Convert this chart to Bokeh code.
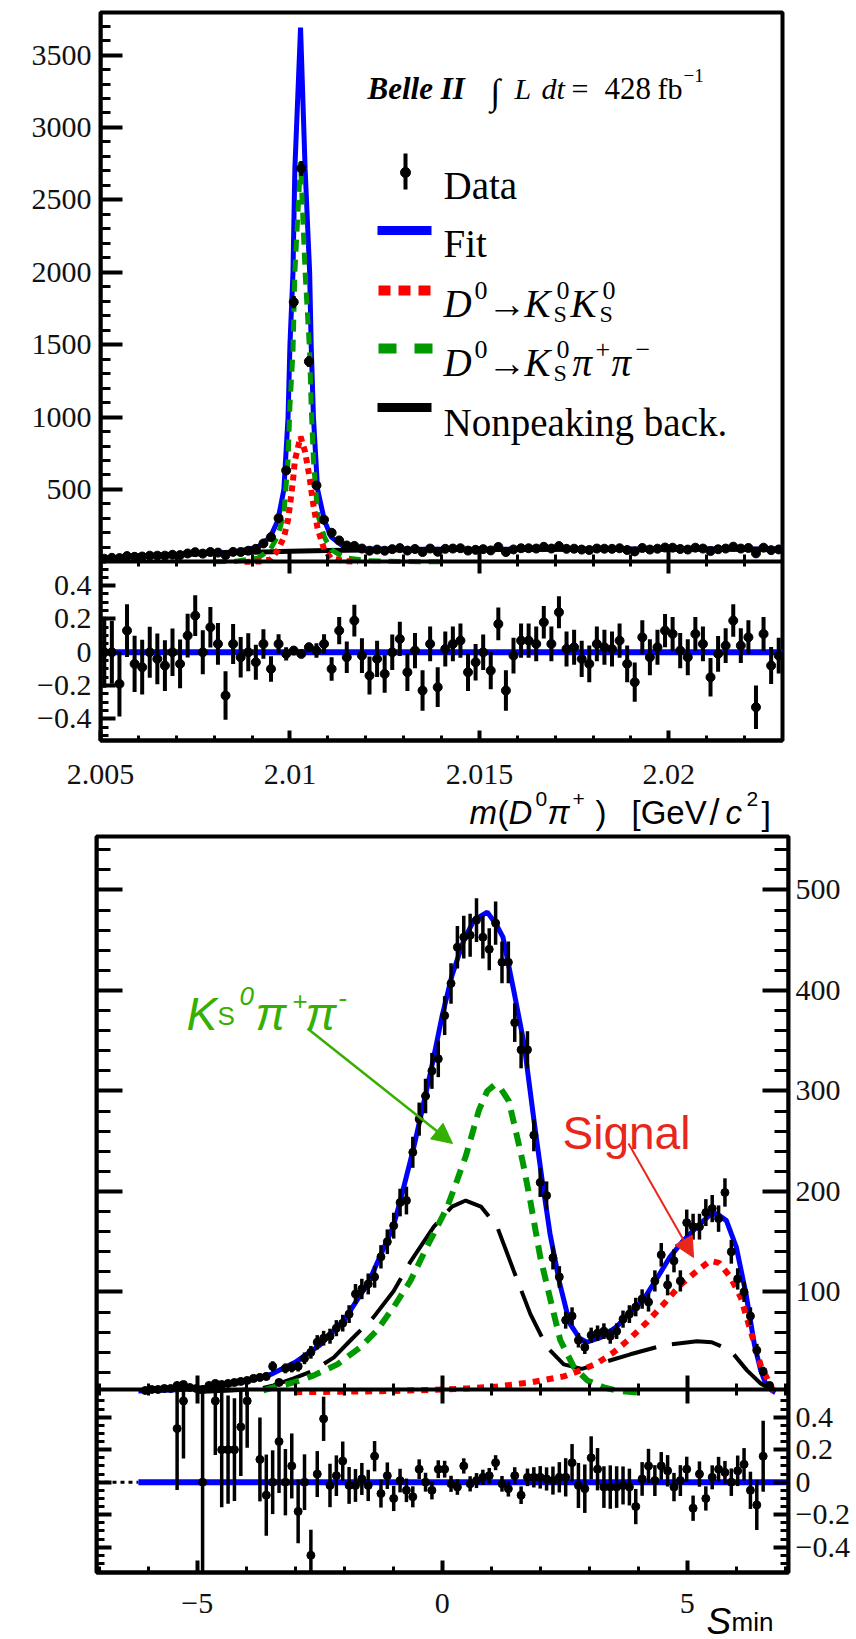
import numpy as np
from bokeh.plotting import figure
from bokeh.models import (Range1d, LinearAxis, FixedTicker, CustomJSTickFormatter,
                          Label, Arrow, NormalHead)
from bokeh.layouts import column
from bokeh.embed import file_html
from bokeh.resources import INLINE

# ======================= TOP CHART DATA: m(D0 pi+) =======================
TOP_BIN_CENTERS = np.round(2.0051 + 0.0002 * np.arange(90), 4)
TOP_COUNTS = np.array([
    22, 28, 26, 40, 35, 37, 43, 43, 43, 49,
    47, 58, 67, 57, 68, 64, 47, 69, 68, 77,
    90, 127, 171, 302, 631, 1794, 2717, 1384, 528, 291,
    201, 148, 113, 110,
    92, 77, 85, 77, 88, 95, 78, 89, 68, 92,
    70, 90, 92, 94, 78, 83, 88, 79, 103, 68,
    86, 94, 94, 92, 104, 92, 109, 90, 91, 85,
    82, 92, 91, 90, 94, 82, 72, 96, 85, 91,
    99, 98, 89, 85, 98, 92, 75, 87, 92, 105,
    92, 96, 59, 98, 81, 86], dtype=float)
TOP_RESID = np.array([
    0.0, 0.0, -0.19, 0.13, -0.07, -0.09, 0.0, -0.04, -0.08, 0.0,
    -0.07, 0.10, 0.22, 0.0, 0.15, 0.05, -0.26, 0.05, -0.03, 0.0,
    -0.06, 0.05, -0.10, 0.05, -0.01, 0.01, -0.01, 0.03, 0.01, 0.05,
    -0.10, 0.13, -0.03, 0.19,
    -0.02, -0.14, -0.04, -0.13, 0.0, 0.08, -0.12, 0.01, -0.23, 0.05,
    -0.21, 0.02, 0.05, 0.07, -0.12, -0.06, 0.0, -0.11, 0.17, -0.23,
    -0.02, 0.07, 0.07, 0.05, 0.18, 0.05, 0.24, 0.02, 0.03, -0.04,
    -0.07, 0.05, 0.03, 0.02, 0.07, -0.07, -0.18, 0.09, -0.03, 0.03,
    0.13, 0.11, 0.01, -0.03, 0.11, 0.05, -0.15, -0.01, 0.04, 0.19,
    0.04, 0.09, -0.33, 0.11, -0.08, -0.02])

TOP_FIT_X = [2.0050, 2.0060, 2.0070, 2.0080, 2.00853, 2.00915, 2.00948, 2.00968,
             2.00984, 2.00995, 2.01000, 2.01008, 2.01013, 2.01028, 2.01040, 2.01052,
             2.01056, 2.01062, 2.01073, 2.01091, 2.01109, 2.01144, 2.0120, 2.0130,
             2.0160, 2.0200, 2.0230]
TOP_FIT_Y = [23, 41, 52, 61, 68, 101, 171, 286,
             500, 1000, 1500, 2000, 2717, 3690, 2717, 2000,
             1500, 1000, 500, 286, 171, 101, 90, 88,
             88, 89, 89]
TOP_KSPIPI_X = [2.0080, 2.00853, 2.00915, 2.00948, 2.00968, 2.00984, 2.00995, 2.01000,
                2.01008, 2.01013, 2.01028, 2.01040, 2.01052, 2.01056, 2.01062, 2.01073,
                2.01091, 2.01109, 2.01144, 2.01206, 2.0130, 2.0140]
TOP_KSPIPI_Y = [0, 3, 25, 85, 180, 330, 700, 1080,
                1450, 2000, 2760, 2000, 1450, 1080, 700, 330,
                170, 85, 28, 8, 2, 0]
TOP_SIG_X = [2.0088, 2.0092, 2.00948, 2.00968, 2.00984, 2.00995, 2.01000, 2.01008,
             2.01013, 2.01028, 2.01040, 2.01052, 2.01056, 2.01062, 2.01073, 2.01091,
             2.01109, 2.01144, 2.0118]
TOP_SIG_Y = [0, 3, 15, 80, 170, 290, 390, 560,
             700, 865, 760, 580, 500, 390, 230, 80,
             25, 5, 0]
TOP_BKG_X = [2.0050, 2.0055, 2.0060, 2.0065, 2.0070, 2.0075, 2.0080, 2.0085,
             2.0090, 2.0100, 2.0110, 2.0120, 2.0140, 2.0170, 2.0200, 2.0230]
TOP_BKG_Y = [22, 32, 40, 46, 51, 55, 59, 63,
             67, 73, 78, 82, 85, 87, 88, 88]
TOP_RES_LINE_X = [2.0051, 2.023]

TOP_X_TICKS = [2.005, 2.01, 2.015, 2.02]
TOP_X_TICK_LABELS = ["2.005", "2.01", "2.015", "2.02"]
TOP_Y_TICKS = [500, 1000, 1500, 2000, 2500, 3000, 3500]
RES_TICKS = [-0.4, -0.2, 0.0, 0.2, 0.4]

# ======================= BOTTOM CHART DATA: S_min =======================
BOT_BIN_CENTERS = np.round(0.05 + 0.13 * np.arange(-47, 52), 2)
BOT_COUNTS = np.array([
    2, 3, 3, 4, 4, 7, 8, 5, 4, 3,
    7, 9, 8, 9, 10, 11, 12, 14, 15, 16,
    26, 10, 24, 25, 26, 34, 40, 50, 54, 56,
    64, 69, 78, 98, 103, 108, 115, 135, 150, 166,
    189, 191, 239, 272, 295, 320, 332,
    375, 407, 443, 453, 455, 470, 453, 441, 467, 428,
    428, 368, 341, 341, 256, 209, 196, 134, 115, 72,
    76, 52, 45, 57, 59, 61, 56, 61, 73, 78,
    85, 93, 90, 111, 137, 107, 131, 111, 169, 165,
    165, 179, 183, 173, 199, 140, 113, 100, 76, 42,
    21, 7], dtype=float)
nan = np.nan
BOT_RESID = np.array([
    nan, nan, nan, nan, nan, 0.33, 0.50, nan, nan, 0.0,
    nan, 0.50, 0.20, 0.20, 0.20, 0.34, 0.50, nan, 0.14, -0.08,
    0.0, 0.25, 0.0, 0.10, -0.18, 0.0, -0.45, 0.05, 0.39, -0.02,
    0.04, 0.13, -0.02, -0.02, 0.02, -0.02, 0.16, -0.07, 0.04, -0.10,
    0.01, -0.05, -0.09, 0.08, 0.0, -0.05, 0.08,
    0.08, -0.01, -0.03, 0.10, -0.01, 0.01, 0.03, 0.04, 0.12, -0.01,
    -0.04, 0.04, -0.08, 0.03, 0.03, 0.03, 0.02, 0.01, 0.03, 0.03,
    0.12, -0.02, -0.04, 0.15, 0.08, -0.03, -0.03, -0.03, -0.02, -0.03,
    -0.15, 0.02, 0.10, 0.01, 0.10, 0.07, -0.03, 0.01, 0.08, -0.16,
    0.05, -0.10, 0.03, 0.08, 0.06, 0.0, 0.07, 0.11, -0.05, -0.14,
    0.16, nan])

BOT_FIT_X = [-6.2, -5.5, -5.0, -4.5, -4.0, -3.5, -3.0, -2.5, -2.0, -1.5, -1.0, -0.86,
             -0.58, -0.24, 0.0, 0.2, 0.44, 0.65, 0.92, 1.11, 1.24, 1.46, 1.67, 1.88,
             2.04, 2.2, 2.4, 2.6, 2.8, 2.95, 3.25, 3.55, 3.8, 4.1, 4.35, 4.65,
             4.9, 5.2, 5.45, 5.6, 5.8, 6.0, 6.2, 6.37, 6.5, 6.6, 6.73, 6.8]
BOT_FIT_Y = [1.5, 2.5, 4, 7, 11, 18, 30, 47, 72, 110, 165, 190,
             244, 318, 375, 415, 450, 470, 478, 465, 453, 400, 347, 268,
             211, 158, 108, 69, 54, 50, 55, 65, 78, 92, 111, 135,
             150, 165, 176, 178, 171, 145, 98, 48, 22, 9, 2, 0]
BOT_KSPIPI_X = [-3.65, -3.44, -3.03, -2.62, -2.14, -1.67, -1.33, -0.99, -0.65, -0.31,
                0.1, 0.31, 0.48, 0.75, 0.92, 1.07, 1.2, 1.36, 1.53, 1.65, 1.8, 2.0,
                2.21, 2.41, 2.69, 2.96, 3.3, 3.6, 4.0]
BOT_KSPIPI_Y = [2, 5, 10, 17, 28, 45, 62, 85, 111, 145,
                184, 212, 235, 281, 300, 306, 302, 290, 254, 228, 190, 135,
                92, 52, 25, 12, 5, 1.5, 0]
BOT_BKG_X = [-5.0, -4.3, -3.7, -3.44, -3.03, -2.62, -2.21, -1.87, -1.40, -0.99, -0.65,
             -0.17, 0.2, 0.48, 0.79, 1.12, 1.46, 1.80, 2.14, 2.48, 2.85, 3.16, 3.84,
             4.52, 5.2, 5.5, 5.88, 6.22, 6.5, 6.7, 6.8]
BOT_BKG_Y = [0.5, 2, 4, 7, 14, 22, 35, 52, 75, 101, 130,
             165, 185, 191, 185, 165, 121, 78, 45, 28, 23.5, 28, 38,
             47, 51, 50, 42, 22, 9, 3, 0]
BOT_SIG_X = [-3.0, -2.0, -1.0, 0.0, 0.5, 1.12, 1.8, 2.48, 2.82, 3.16, 3.5, 3.84,
             4.18, 4.52, 4.86, 5.2, 5.47, 5.65, 5.88, 6.09, 6.29, 6.5, 6.7, 6.78]
BOT_SIG_Y = [0.3, 0.8, 1.5, 3, 4, 6, 10, 16, 22, 29, 40, 54,
             70, 88, 107, 121, 131, 129, 115, 95, 62, 27, 7, 0]
BOT_RES_FIT_START = -6.2

BOT_X_TICKS = [-5, 0, 5]
BOT_X_TICK_LABELS = ["\u22125", "0", "5"]
BOT_Y_TICKS = [100, 200, 300, 400, 500]

# ======================= STYLE =======================
SERIF = "Liberation Serif"
SANS = "Liberation Sans"
BLUE = "#0000ff"
RED = "#ff0000"
GREEN = "#009a00"
ANN_GREEN = "#36b000"
ANN_RED = "#e8261c"
TICK_TXT = "#111111"

FMT = CustomJSTickFormatter(code="return (+tick.toFixed(4)).toString().replace('-', '\\u2212');")
BLANK = CustomJSTickFormatter(code="return '';")

COMBO_CODE = """
if (tick < vb) {
  var r = Math.round((c0 + c1 * tick) * 10) / 10;
  if (Math.abs(r) < 1e-9) { r = 0; }
  return r.toString().replace('-', '\\u2212');
}
return (+tick.toFixed(4)).toString().replace('-', '\\u2212');
"""


def make_axis(ticks, minor, *, formatter=None, labels=True, y_range_name="default",
              fixed=None, t_in=0, t_out=0, m_in=0, m_out=0, standoff=8, line=True):
    if formatter is None:
        formatter = FMT if labels else BLANK
    ax = LinearAxis(ticker=FixedTicker(ticks=list(ticks), minor_ticks=list(minor)),
                    formatter=formatter, y_range_name=y_range_name)
    ax.major_tick_in = t_in
    ax.major_tick_out = t_out
    ax.minor_tick_in = m_in
    ax.minor_tick_out = m_out
    ax.major_tick_line_width = 4
    ax.minor_tick_line_width = 3
    ax.major_tick_line_color = "black" if (t_in or t_out) else None
    ax.minor_tick_line_color = "black" if (m_in or m_out) else None
    if line:
        ax.axis_line_width = 4
        ax.axis_line_color = "black"
    else:
        ax.axis_line_color = None
    ax.major_label_text_font = SERIF
    ax.major_label_text_font_size = "30px" if labels else "0px"
    ax.major_label_text_color = TICK_TXT
    ax.major_label_standoff = standoff if labels else 0
    if fixed is not None:
        ax.fixed_location = fixed
    return ax


def txt(p, s, x, y, size, font=SERIF, style="normal", color="black", align="left"):
    p.add_layout(Label(x=x, y=y, text=s, text_font=font, text_font_size=f"{size}px",
                       text_font_style=style, text_color=color,
                       text_align=align, text_baseline="alphabetic"))


def base_fig(height, xr, yr, rr, left, right, top, bottom):
    p = figure(width=856, height=height, x_range=Range1d(*xr), y_range=Range1d(*yr),
               x_axis_location=None, y_axis_location=None, toolbar_location=None,
               output_backend="svg", min_border_left=left, min_border_right=right,
               min_border_top=top, min_border_bottom=bottom)
    p.frame_align = False
    p.extra_y_ranges = {"res": Range1d(*rr)}
    p.outline_line_color = "black"
    p.outline_line_width = 4
    p.outline_line_alpha = 1.0
    p.background_fill_color = "white"
    p.border_fill_color = "white"
    try:
        p.grid.visible = False
    except Exception:
        pass
    return p


def text_strip(xfun, top_px, bottom_px, b_top=1, b_bottom=1, b_side=1):
    """Strip covering page rows top_px..bottom_px; y data = -(page px)."""
    p = figure(width=856, height=bottom_px - top_px,
               x_range=Range1d(xfun(b_side), xfun(856 - b_side)),
               y_range=Range1d(-(bottom_px - b_bottom), -(top_px + b_top)),
               x_axis_location=None, y_axis_location=None, toolbar_location=None,
               output_backend="svg", min_border_left=b_side, min_border_right=b_side,
               min_border_top=b_top, min_border_bottom=b_bottom)
    p.frame_align = False
    p.outline_line_color = None
    p.background_fill_color = "white"
    p.border_fill_color = "white"
    try:
        p.grid.visible = False
    except Exception:
        pass
    return p


res_minor = np.round(np.arange(-0.5, 0.5001, 0.05), 2).tolist()

# ======================= TOP FIGURE =======================
T_XR = (2.005, 2.023)
T_YR = (-1233.6, 3794.0)
T_RR = (-0.530, 3.8424)
T_FL, T_FR, T_FT, T_FB = 100, 782, 12, 740
T_H = T_FB + 3


def X1(px):
    return T_XR[0] + (px - T_FL) / (T_FR - T_FL) * (T_XR[1] - T_XR[0])


def Y1(py):
    return T_YR[1] - (py - T_FT) / (T_FB - T_FT) * (T_YR[1] - T_YR[0])


def R1(py):
    return T_RR[1] - (py - T_FT) / (T_FB - T_FT) * (T_RR[1] - T_RR[0])


p1 = base_fig(T_H, T_XR, T_YR, T_RR, T_FL, 856 - T_FR, T_FT, T_H - T_FB)

t_c1 = (T_RR[1] - T_RR[0]) / (T_YR[1] - T_YR[0])
t_c0 = T_RR[0] - t_c1 * T_YR[0]
t_vb = Y1(561.4)
t_res_in_main = [(r - t_c0) / t_c1 for r in RES_TICKS]
top_combo = CustomJSTickFormatter(args=dict(c0=t_c0, c1=t_c1, vb=t_vb), code=COMBO_CODE)
x_minor_top = np.round(np.arange(2.005, 2.02301, 0.001), 3).tolist()

p1.add_layout(make_axis(TOP_Y_TICKS + t_res_in_main, [], formatter=top_combo,
                        standoff=9, line=False), "left")
p1.add_layout(make_axis(TOP_Y_TICKS, list(range(100, 3800, 100)), labels=False,
                        fixed=T_XR[0], t_in=22, m_in=10), "left")
p1.add_layout(make_axis(RES_TICKS, res_minor, labels=False, y_range_name="res",
                        fixed=T_XR[0], t_in=15, m_in=8, line=False), "left")
p1.add_layout(make_axis(TOP_X_TICKS, x_minor_top, labels=False, t_in=10, m_in=5), "below")
p1.add_layout(make_axis(TOP_X_TICKS, x_minor_top, labels=False, fixed=0.0,
                        t_in=12, t_out=12, m_in=7, m_out=5), "below")

p1.line(TOP_FIT_X, TOP_FIT_Y, line_color=BLUE, line_width=5)
p1.line(TOP_BKG_X, TOP_BKG_Y, line_color="black", line_width=5)
p1.line(TOP_KSPIPI_X, TOP_KSPIPI_Y, line_color=GREEN, line_width=5, line_dash="12 8")
p1.line(TOP_SIG_X, TOP_SIG_Y, line_color=RED, line_width=6, line_dash="6 5")
t_err = np.sqrt(TOP_COUNTS)
p1.segment(TOP_BIN_CENTERS, TOP_COUNTS - t_err, TOP_BIN_CENTERS, TOP_COUNTS + t_err,
           line_color="black", line_width=4)
p1.scatter(TOP_BIN_CENTERS, TOP_COUNTS, size=9, color="black")

top_res_clip = R1(561.4)
tr_err = 1.0 / np.sqrt(TOP_COUNTS)
p1.line(TOP_RES_LINE_X, [0, 0], y_range_name="res", line_color=BLUE, line_width=6)
p1.segment(TOP_BIN_CENTERS, TOP_RESID - tr_err, TOP_BIN_CENTERS,
           np.minimum(TOP_RESID + tr_err, top_res_clip), y_range_name="res",
           line_color="black", line_width=4)
p1.scatter(TOP_BIN_CENTERS, TOP_RESID, y_range_name="res", size=9, color="black")

# legend samples
p1.segment([X1(405)], [Y1(153)], [X1(405)], [Y1(189)], line_color="black", line_width=4)
p1.scatter([X1(405)], [Y1(172)], size=10, color="black")
p1.line([X1(377), X1(431)], [Y1(230)] * 2, line_color=BLUE, line_width=9)
p1.line([X1(378), X1(432)], [Y1(290)] * 2, line_color=RED, line_width=10, line_dash="12 8")
p1.line([X1(378), X1(432)], [Y1(348)] * 2, line_color=GREEN, line_width=10, line_dash="18 18")
p1.line([X1(377), X1(431)], [Y1(407)] * 2, line_color="black", line_width=9)


def t1(s, px, py, size, font=SERIF, style="normal", color="black"):
    txt(p1, s, X1(px), Y1(py), size, font, style, color)


t1("Belle II", 367, 88, 31, style="bold italic")
t1("\u222b", 490, 91, 36)
t1("L", 514, 88, 30, style="italic")
t1("dt", 541, 88, 30, style="italic")
t1("=", 571, 88, 30)
t1("428", 604, 88, 31)
t1("fb", 657, 88, 30)
t1("\u22121", 683, 75, 19)

LF = 39
t1("Data", 443, 185, LF)
t1("Fit", 443, 243, LF)
for base, last in ((303, "KK"), (362, "Kpipi")):
    t1("D", 443, base, LF, style="italic")
    t1("0", 474, base - 13, 26)
    t1("\u2192", 487, base, LF)
    t1("K", 524, base, LF, style="italic")
    t1("0", 556, base - 13, 26)
    t1("S", 553, base + 10, 24)
    if last == "KK":
        t1("K", 570, base, LF, style="italic")
        t1("0", 602, base - 13, 26)
        t1("S", 599, base + 10, 24)
    else:
        t1("\u03c0", 572, base, LF, style="italic")
        t1("+", 595, base - 13, 26)
        t1("\u03c0", 611, base, LF, style="italic")
        t1("\u2212", 635, base - 13, 26)
t1("Nonpeaking back.", 443, 422, LF)

# ======================= BOTTOM FIGURE GEOMETRY =======================
B_XR = (-7.055, 7.067)
B_YR = (-179.1, 553.2)
B_RR = (-0.5557, 3.9735)
B_FL, B_FR, B_FT, B_FB = 96, 788, 836, 1572
B_TOP = B_FT - 2
B_BOT = B_FB + 3

# ======================= TOP TICK LABELS + AXIS TITLE STRIP =======================
pT = text_strip(X1, T_H, B_TOP)
for tv, tl in zip(TOP_X_TICKS, TOP_X_TICK_LABELS):
    txt(pT, tl, tv, -774, 30, font=SERIF, color=TICK_TXT, align="center")


def tT(s, px, py, size, style="normal"):
    txt(pT, s, X1(px), -py, size, font=SANS, style=style)


tT("m", 469, 812, 33, style="italic")
tT("(", 497, 812, 33)
tT("D", 508, 812, 33, style="italic")
tT("0", 535, 798, 21)
tT("\u03c0", 547, 812, 33, style="italic")
tT("+", 572, 798, 21)
tT(")", 595, 812, 33)
tT("[GeV", 631, 812, 33)
tT("/", 709, 812, 36)
tT("c", 725, 812, 33, style="italic")
tT("2", 746, 798, 21)
tT("]", 761, 812, 34)


# ======================= BOTTOM FIGURE =======================
def X2(px):
    return B_XR[0] + (px - B_FL) / (B_FR - B_FL) * (B_XR[1] - B_XR[0])


def Y2(py):
    return B_YR[1] - (py - B_FT) / (B_FB - B_FT) * (B_YR[1] - B_YR[0])


def R2(py):
    return B_RR[1] - (py - B_FT) / (B_FB - B_FT) * (B_RR[1] - B_RR[0])


p2 = base_fig(B_BOT - B_TOP, B_XR, B_YR, B_RR, B_FL, 856 - B_FR, B_FT - B_TOP, B_BOT - B_FB)

BOUND_MAIN = Y2(1389.3)
BOUND_RES = R2(1389.3)
b_c1 = (B_RR[1] - B_RR[0]) / (B_YR[1] - B_YR[0])
b_c0 = B_RR[0] - b_c1 * B_YR[0]
b_res_in_main = [(r - b_c0) / b_c1 for r in RES_TICKS]
bot_combo = CustomJSTickFormatter(args=dict(c0=b_c0, c1=b_c1, vb=BOUND_MAIN), code=COMBO_CODE)
y_minor_bot = list(range(20, 560, 20))
x_minor_bot = list(range(-7, 8))

p2.add_layout(make_axis(BOT_Y_TICKS + b_res_in_main, [], formatter=bot_combo,
                        standoff=7, line=False), "right")
for loc, side in ((B_XR[1], "right"), (B_XR[0], "left")):
    p2.add_layout(make_axis(BOT_Y_TICKS, y_minor_bot, labels=False, fixed=loc,
                            t_in=26, m_in=14), side)
    p2.add_layout(make_axis(RES_TICKS, res_minor, labels=False, y_range_name="res",
                            fixed=loc, t_in=15, m_in=8, line=False), side)
p2.add_layout(make_axis(BOT_X_TICKS, x_minor_bot, labels=False, t_in=12, m_in=6), "below")
p2.add_layout(make_axis(BOT_X_TICKS, x_minor_bot, labels=False, fixed=BOUND_MAIN,
                        t_in=14, t_out=14, m_in=6, m_out=6), "below")

p2.line(BOT_FIT_X, BOT_FIT_Y, line_color=BLUE, line_width=5)
p2.line(BOT_BKG_X, BOT_BKG_Y, line_color="black", line_width=4, line_dash="50 16")
p2.line(BOT_KSPIPI_X, BOT_KSPIPI_Y, line_color=GREEN, line_width=6, line_dash="14 9")
p2.line(BOT_SIG_X, BOT_SIG_Y, line_color=RED, line_width=6, line_dash="7 7")

b_err = np.sqrt(BOT_COUNTS)
p2.segment(BOT_BIN_CENTERS, BOT_COUNTS - b_err, BOT_BIN_CENTERS, BOT_COUNTS + b_err,
           line_color="black", line_width=3.5)
p2.scatter(BOT_BIN_CENTERS, BOT_COUNTS, size=8, color="black")

br_err = 1.0 / np.sqrt(BOT_COUNTS)
p2.line([B_XR[0], BOT_RES_FIT_START], [0, 0], y_range_name="res", line_color="black",
        line_width=3, line_dash="4 4")
p2.line([BOT_RES_FIT_START, B_XR[1]], [0, 0], y_range_name="res", line_color=BLUE,
        line_width=6)
p2.segment(BOT_BIN_CENTERS, BOT_RESID - br_err, BOT_BIN_CENTERS,
           np.minimum(BOT_RESID + br_err, BOUND_RES), y_range_name="res",
           line_color="black", line_width=3.5)
p2.scatter(BOT_BIN_CENTERS, BOT_RESID, y_range_name="res", size=8, color="black")


def t2(s, px, py, size, font=SANS, style="normal", color="black"):
    txt(p2, s, X2(px), Y2(py), size, font, style, color)


t2("K", 186, 1013, 46, style="italic", color=ANN_GREEN)
t2("S", 217, 1015, 26, color=ANN_GREEN)
t2("0", 239, 995, 26, style="italic", color=ANN_GREEN)
t2("\u03c0", 255, 1013, 46, style="italic", color=ANN_GREEN)
t2("+", 292, 1000, 26, color=ANN_GREEN)
t2("\u03c0", 305, 1013, 46, style="italic", color=ANN_GREEN)
t2("-", 338, 997, 26, color=ANN_GREEN)
p2.add_layout(Arrow(x_start=X2(307), y_start=Y2(1028), x_end=X2(452), y_end=Y2(1143),
                    line_color=ANN_GREEN, line_width=2.5,
                    end=NormalHead(size=20, fill_color=ANN_GREEN, line_color=ANN_GREEN)))

t2("Signal", 562, 1132, 46, color=ANN_RED)
p2.add_layout(Arrow(x_start=X2(628), y_start=Y2(1143), x_end=X2(693), y_end=Y2(1257),
                    line_color=ANN_RED, line_width=2,
                    end=NormalHead(size=20, fill_color=ANN_RED, line_color=ANN_RED)))

# ======================= BOTTOM TICK LABELS + AXIS TITLE STRIP =======================
pS = text_strip(X2, B_BOT, 1639, b_top=1, b_bottom=0)
for tv, tl in zip(BOT_X_TICKS, BOT_X_TICK_LABELS):
    txt(pS, tl, tv, -1603, 30, font=SERIF, color=TICK_TXT, align="center")
txt(pS, "S", X2(706), -1621, 37, font=SANS, style="italic")
txt(pS, "min", X2(731), -1621, 26, font=SANS)

layout = column(p1, pT, p2, pS)
open("out.html", "w").write(file_html(layout, INLINE))
